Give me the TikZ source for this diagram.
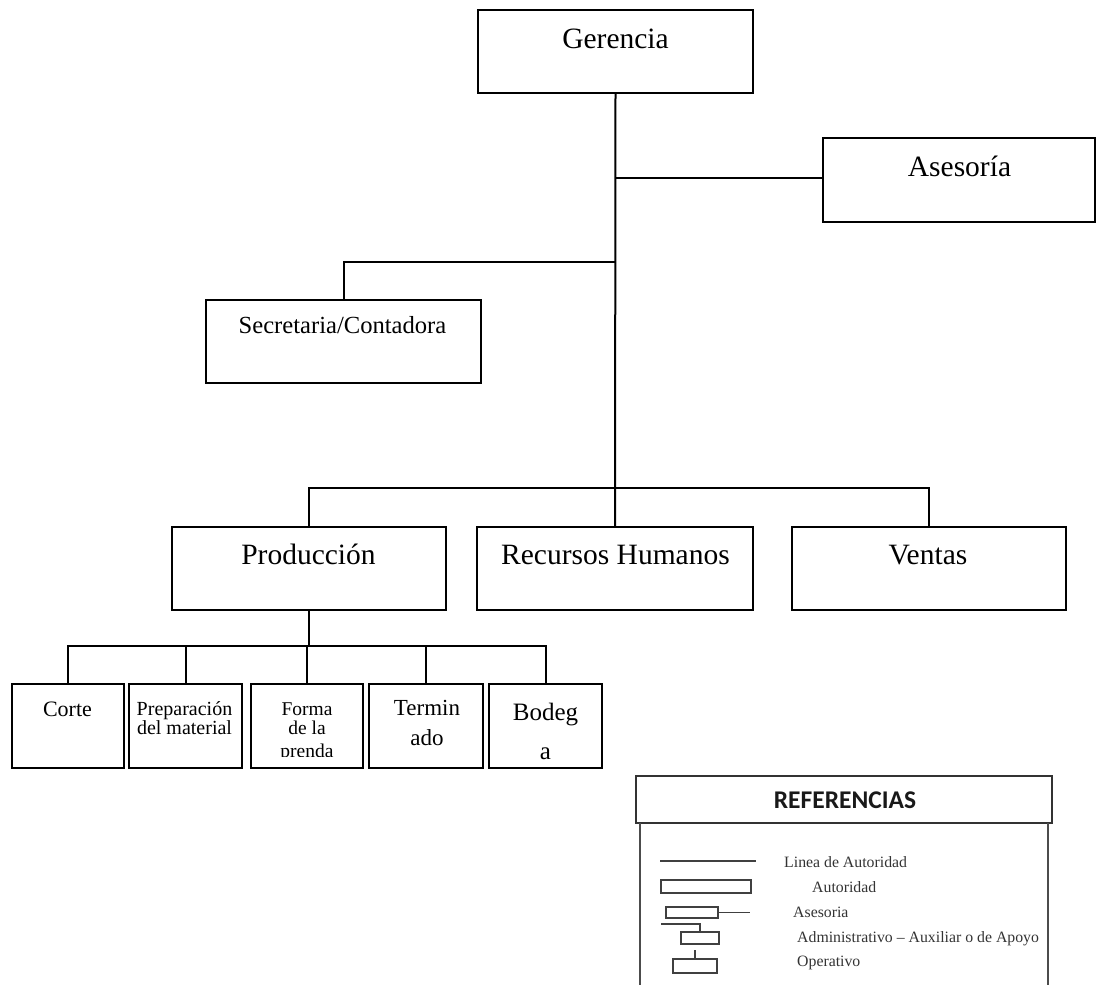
\documentclass[tikz,border=0pt]{standalone}
\usepackage{fontspec}
\setmainfont{Liberation Serif}
\newfontfamily\calfont{Carlito}
\begin{document}
\begin{tikzpicture}[x=1pt,y=-1pt,
  box/.style={draw=black, line width=2pt, rectangle, inner sep=0pt},
  link/.style={draw=black, line width=2pt},
  lbl/.style={inner sep=0pt, anchor=base},
  big/.style={lbl, font=\fontsize{29.5}{33}\selectfont},
  midtxt/.style={lbl, font=\fontsize{24.6}{28}\selectfont},
  legline/.style={draw=black!75, line width=1.5pt},
  legbox/.style={draw=black!75, line width=1.5pt, rectangle, inner sep=0pt},
  legtxt/.style={inner sep=0pt, anchor=base west, text=black!80, font=\fontsize{15.8}{17}\selectfont}
]
\useasboundingbox (0,0) rectangle (1096,985);

% ---- upper levels ----
\node[box, minimum width=275, minimum height=83] (ger) at (615.5,51.5) {};
\node[big] (gerT) at (615.5,48) {Gerencia};

\node[box, minimum width=271.5, minimum height=84] (ase) at (958.75,180) {};
\node[big] (aseT) at (959.5,176) {Asesoría};

\node[box, minimum width=275, minimum height=83] (sec) at (343.5,341.5) {};
\node[midtxt] (secT) at (342.5,333) {Secretaria/Contadora};

% ---- departments ----
\node[box, minimum width=274, minimum height=83] (prod) at (309,568.5) {};
\node[big] (prodT) at (308.5,564) {Producción};

\node[box, minimum width=276, minimum height=83] (rh) at (615,568.5) {};
\node[big] (rhT) at (615.5,564) {Recursos Humanos};

\node[box, minimum width=274, minimum height=83] (ven) at (929,568.5) {};
\node[big] (venT) at (928,564) {Ventas};

% ---- production units ----
\node[box, minimum width=112, minimum height=84] (cor) at (68,726) {};
\node[box, minimum width=113, minimum height=84] (pre) at (185.5,726) {};
\node[box, minimum width=112, minimum height=84] (for) at (307,726) {};
\node[box, minimum width=114, minimum height=84] (ter) at (426,726) {};
\node[box, minimum width=113, minimum height=84] (bod) at (545.5,726) {};

\node[lbl, font=\fontsize{22}{24}\selectfont] (corT) at (67.5,716) {Corte};
\node[lbl, font=\fontsize{20}{22}\selectfont] (preT1) at (184.5,715) {Preparación};
\node[lbl, font=\fontsize{20}{22}\selectfont] (preT2) at (184.5,734) {del material};
\begin{scope}
  \clip (251,690) rectangle (363,756);
  \node[lbl, font=\fontsize{19.5}{21}\selectfont] (forT1) at (307,715) {Forma};
  \node[lbl, font=\fontsize{19.5}{21}\selectfont] (forT2) at (307,734) {de la};
  \node[lbl, font=\fontsize{19.5}{21}\selectfont] (forT3) at (307,757) {prenda};
\end{scope}
\node[lbl, font=\fontsize{23}{25}\selectfont] (terT1) at (427,715) {Termin};
\node[lbl, font=\fontsize{23}{25}\selectfont] (terT2) at (427,745) {ado};
\node[lbl, font=\fontsize{25}{27}\selectfont] (bodT1) at (545.5,720) {Bodeg};
\node[lbl, font=\fontsize{25}{27}\selectfont] (bodT2) at (545.5,759) {a};

% ---- authority lines ----
\coordinate (jA) at (615,178);
\coordinate (jS) at (615,262);
\coordinate (jM) at (615,488);
\coordinate (jP) at (305,646);

\draw[link] (ger.south) -- (rh.north);
\draw[link] (jA) -- (jA -| ase.west);
\draw[link] (jS) -| (sec.north);
\draw[link] (prod.north) |- (jM) -| (ven.north);
\draw[link] (prod.south) -- (prod.south |- jP);
\draw[link] (cor.north) |- (jP) -| (bod.north);
\draw[link] (pre.north) -- (pre.north |- jP);
\draw[link] (for.north) -- (for.north |- jP);
\draw[link] (ter.north) -- (ter.north |- jP);

% ---- legend ----
\node[draw=black!80, line width=1.8pt, rectangle, inner sep=0pt,
      minimum width=416, minimum height=47] (refH) at (844,799.5) {};
\node[inner sep=0pt, anchor=base, text=black!90, font=\calfont\bfseries\fontsize{25.5}{28}\selectfont]
      (refT) at (845,808) {REFERENCIAS};
\draw[draw=black!70, line width=1.8pt] (640,823) -- (640,990);
\draw[draw=black!70, line width=1.8pt] (1048,823) -- (1048,990);

% authority line
\coordinate (kL1) at (660,861);
\coordinate (kL2) at (756,861);
\draw[legline] (kL1) -- (kL2);
\node[legtxt] (kLT) at (784,867) {Linea de Autoridad};

% authority box
\node[legbox, minimum width=90, minimum height=13] (kAut) at (706,886.5) {};
\node[legtxt] (kAutT) at (812,892) {Autoridad};

% advisory box
\node[legbox, minimum width=52, minimum height=11] (kAse) at (692,912.5) {};
\coordinate (kAseE) at (750,912.5);
\draw[legline] (kAse.east) -- (kAseE);
\node[legtxt] (kAseT) at (793,917) {Asesoria};

% support box
\node[legbox, minimum width=38, minimum height=12] (kAdm) at (700,938) {};
\coordinate (kAdmS) at (661,924);
\draw[legline] (kAdmS) -| (kAdm.north);
\node[legtxt] (kAdmT) at (797,942) {Administrativo – Auxiliar o de Apoyo};

% operative box
\node[legbox, minimum width=44, minimum height=14] (kOpe) at (695,966) {};
\coordinate (kOpeS) at (695,950);
\draw[legline] (kOpeS) -- (kOpe.north);
\node[legtxt] (kOpeT) at (797,966) {Operativo};
\end{tikzpicture}
\end{document}
